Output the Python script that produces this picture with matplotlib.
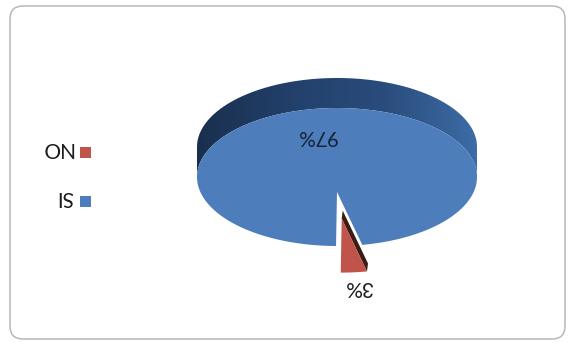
import numpy as np
import matplotlib
matplotlib.use("Agg")
import matplotlib.pyplot as plt
from matplotlib.patches import Polygon, FancyBboxPatch, Rectangle
from matplotlib.colors import LinearSegmentedColormap

# ---- data -------------------------------------------------------------
labels = ["SI", "NO"]
shares = [97, 3]
pct_labels = ["97%", "3%"]
face_colors = ["#4d7dbb", "#c0534a"]
cut_colors = ["#3f6aa3", "#3a1d14"]

# ---- canvas (pixel coordinates, y grows downward) --------------------
W, H = 574, 345
fig = plt.figure(figsize=(W / 100, H / 100), dpi=100)
ax = fig.add_axes([0, 0, 1, 1])
ax.set_xlim(0, W)
ax.set_ylim(H, 0)
ax.axis("off")

# rounded chart frame
frame = FancyBboxPatch((10, 6), 555, 333, boxstyle="round,pad=0,rounding_size=13",
                       fc="white", ec="#b8b8b8", lw=1.1, zorder=0)
ax.add_patch(frame)

# ---- 3-D pie geometry (the whole chart is turned half a turn) --------
cx, cy, a, b = 337.0, 177.0, 140.0, 69.0
depth = 30.0          # wall height
drop = 15.0           # apparent centre sits a bit below the ellipse centre
explode = 27.0        # how far the small slice is pulled out
small_mid = np.deg2rad(85.0)

def rim(t, r=1.0):
    return np.column_stack([cx + r * a * np.cos(t), cy + r * b * np.sin(t)])

total = float(sum(shares))
spans = [2 * np.pi * s / total for s in shares]
s_start = small_mid - spans[1] / 2
s_end = small_mid + spans[1] / 2
apex = np.array([cx, cy + drop])

# wall band along the visible (upper) half, with a left-to-right shade
t_wall = np.linspace(np.pi, 2 * np.pi, 200)
upper = rim(t_wall)
wall_pts = np.vstack([upper - [0, depth], upper[::-1]])
wall = Polygon(wall_pts, closed=True, fc="none", ec="none", zorder=2)
ax.add_patch(wall)
grad = np.linspace(0, 1, 256).reshape(1, -1)
wall_cmap = LinearSegmentedColormap.from_list(
    "wall", ["#1a2f4e", "#22406a", "#2a4c7c", "#3d6ca6"])
img = ax.imshow(grad, cmap=wall_cmap, aspect="auto",
                extent=[cx - a, cx + a, cy + 5, cy - b - depth - 5], zorder=2)
img.set_clip_path(wall)
ax.set_xlim(0, W)
ax.set_ylim(H, 0)

# small slice, pulled outward along its middle direction
dvec = np.array([a * np.cos(small_mid), b * np.sin(small_mid)])
dvec = dvec / np.linalg.norm(dvec) * explode
apex_s = apex + dvec
rim_s0 = rim(np.array([s_start]))[0] + dvec
cut = Polygon([apex_s, rim_s0, rim_s0 + [1.0, -8.0], apex_s + [1.0, -8.0]],
              closed=True, fc=cut_colors[1], ec="none", zorder=3)
ax.add_patch(cut)
t_s = np.linspace(s_start, s_end, 30)
small_face = Polygon(np.vstack([apex_s, rim(t_s) + dvec]), closed=True,
                     fc=face_colors[1], ec="none", zorder=4)
ax.add_patch(small_face)

# large slice top face
t_b = np.linspace(s_end, s_start + 2 * np.pi, 400)
big_face = Polygon(np.vstack([apex, rim(t_b)]), closed=True,
                   fc=face_colors[0], ec="none", zorder=5)
ax.add_patch(big_face)

# ---- percentage labels (drawn upside down with the chart) ------------
big_mid = s_end + spans[0] / 2
p_big = rim(np.array([big_mid]), 0.55)[0]
p_small = rim(np.array([small_mid]), 1.64)[0]
txt_kw = dict(rotation=180, ha="center", va="center", fontfamily="Lato",
              fontsize=15, zorder=6)
ax.text(p_big[0] - 14, p_big[1] - 3, pct_labels[0], color="#17233a", **txt_kw)
ax.text(p_small[0] + 2, p_small[1] - 3, pct_labels[1], color="#1e1e1e", **txt_kw)

# ---- legend ----------------------------------------------------------
leg_rows = [(labels[1], face_colors[1], 152.5), (labels[0], face_colors[0], 201.0)]
for name, col, yy in leg_rows:
    ax.add_patch(Rectangle((80, yy - 5.5), 11, 11, fc=col, ec="none", zorder=6))
    ax.text(73, yy - 4, name, rotation=180, ha="right", va="center",
            fontfamily="Lato", fontsize=15, color="#1a1a1a", zorder=6)

fig.savefig("out.png", dpi=100, facecolor="white")
